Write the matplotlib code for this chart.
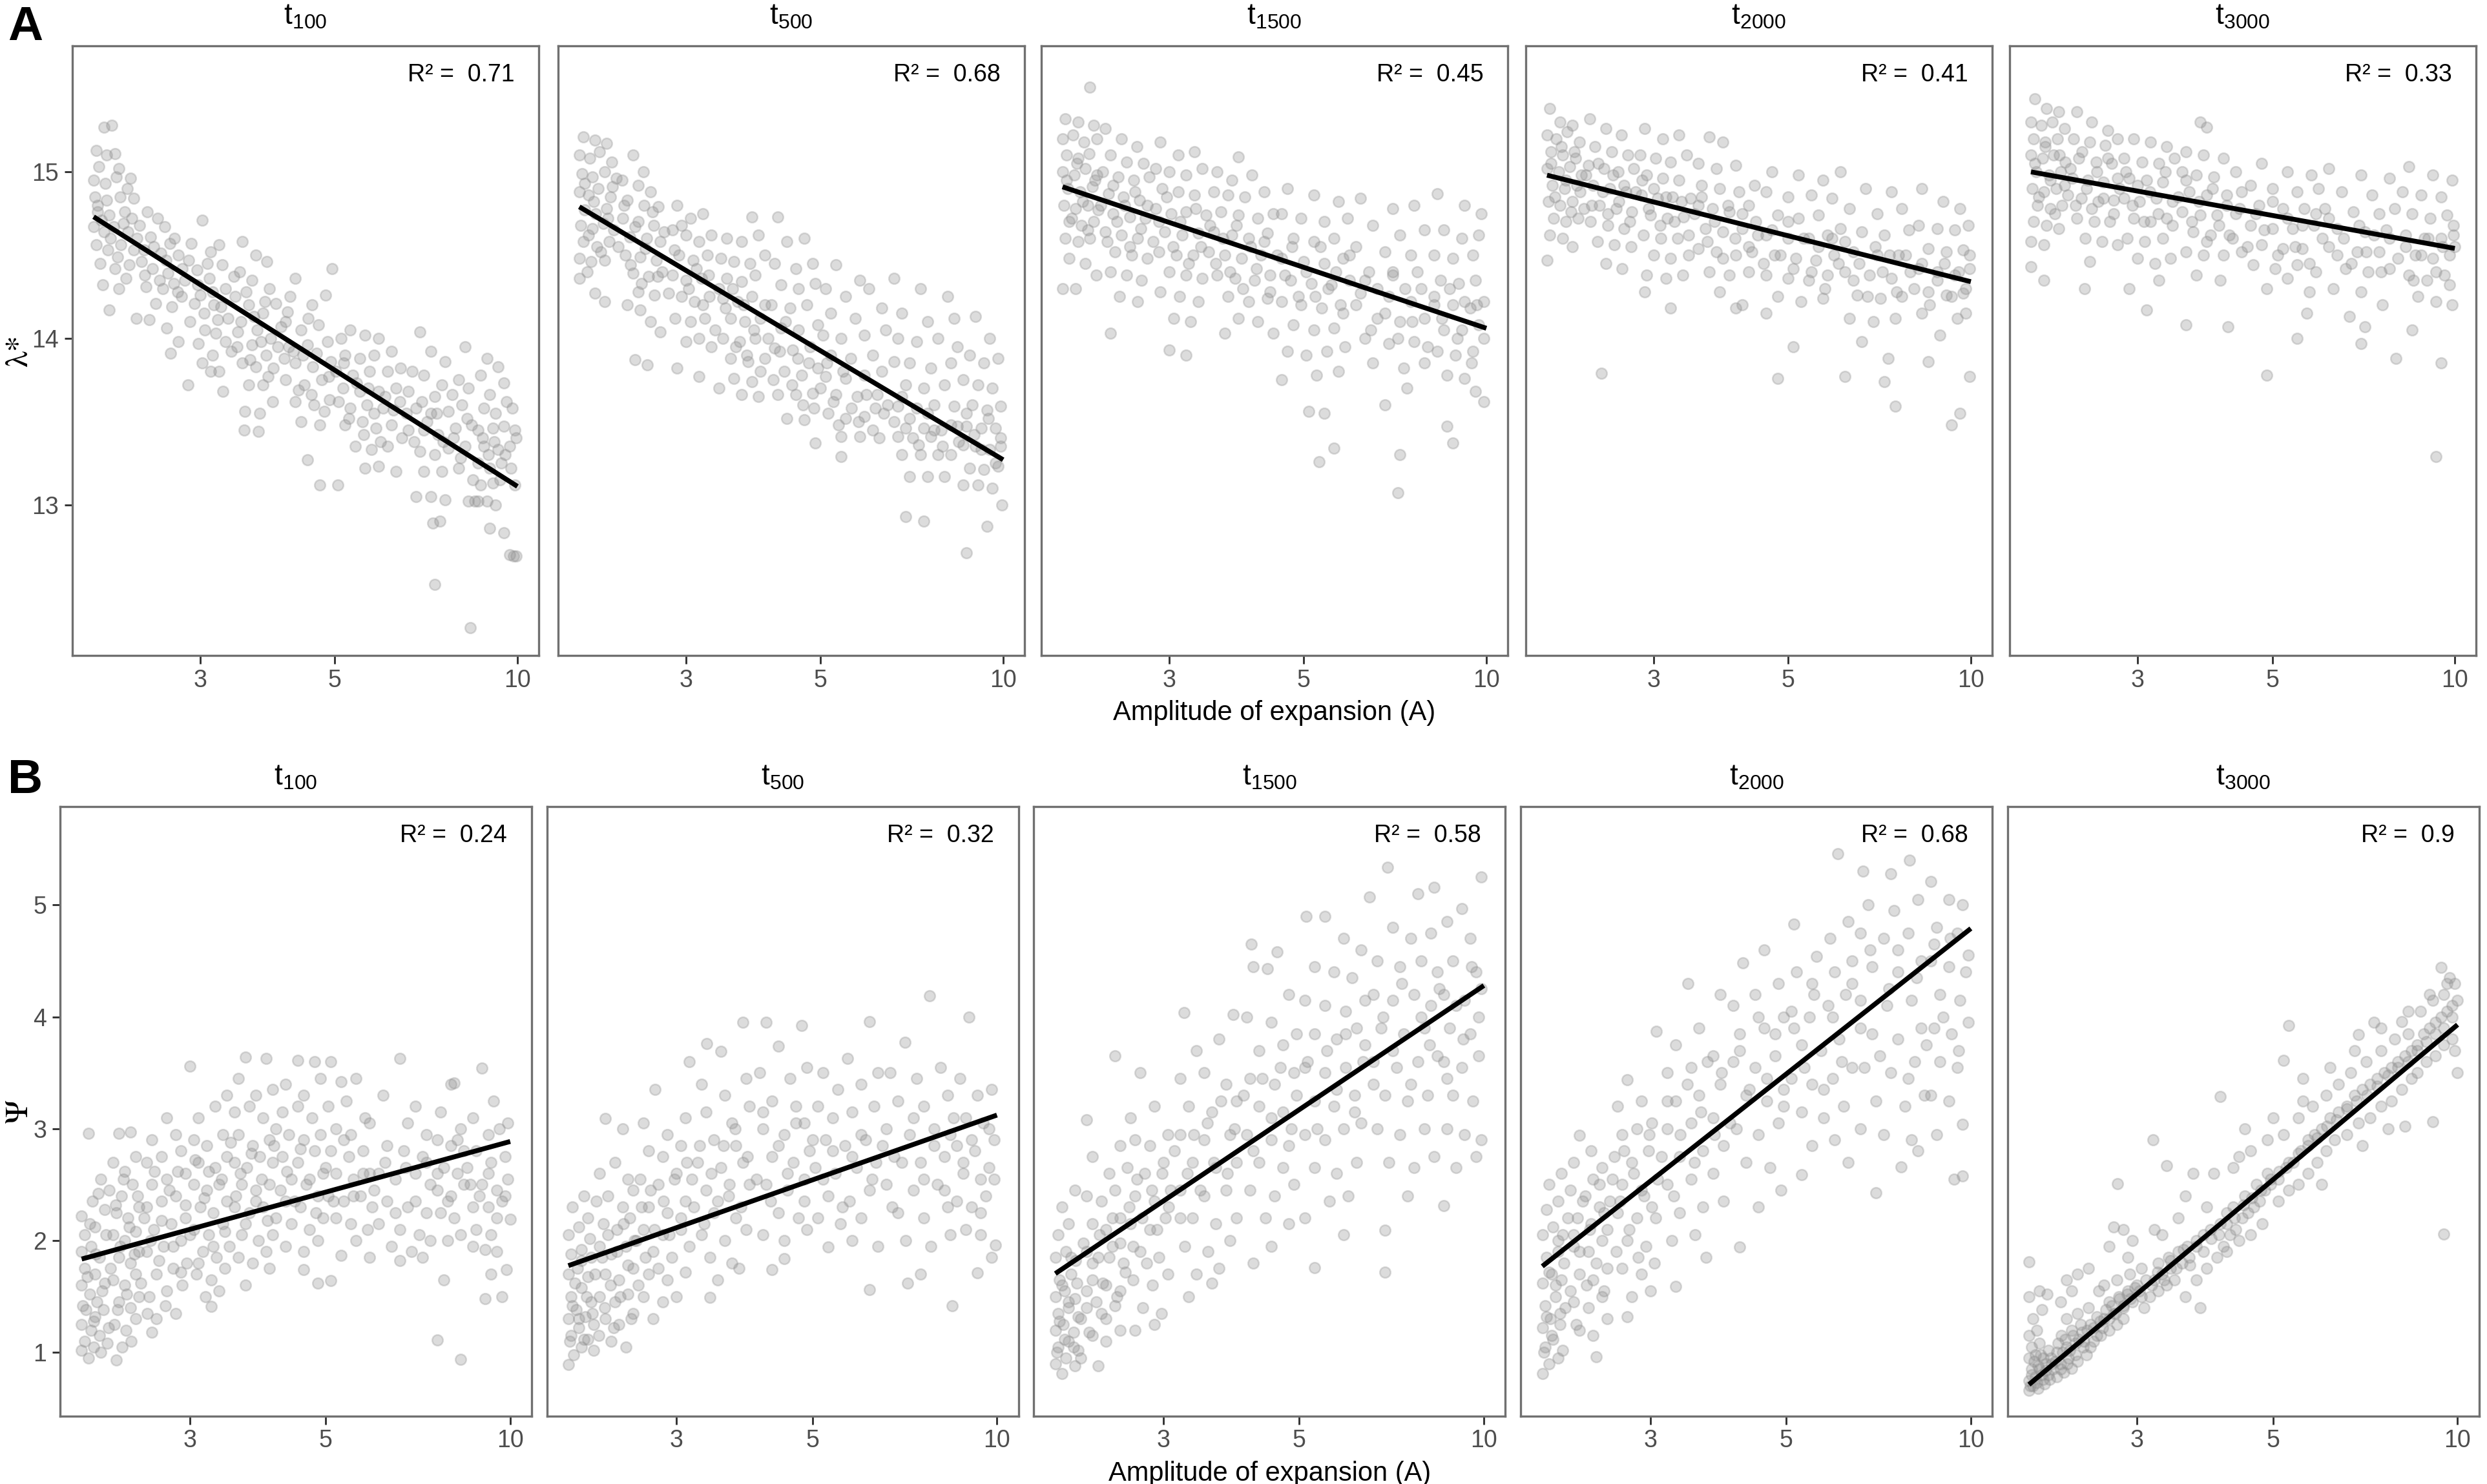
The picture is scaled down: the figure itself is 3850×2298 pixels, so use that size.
import matplotlib
matplotlib.use("Agg")
import matplotlib.pyplot as plt
from matplotlib.ticker import FixedLocator, FixedFormatter, NullLocator

plt.rcParams["font.family"] = ["Liberation Sans", "DejaVu Sans"]
plt.rcParams["mathtext.fontset"] = "custom"
plt.rcParams["mathtext.rm"] = "Liberation Sans"
plt.rcParams["mathtext.it"] = "Liberation Sans"

# ---- data ----
times = ["100", "500", "1500", "2000", "3000"]
r2_lambda = ["0.71", "0.68", "0.45", "0.41", "0.33"]
r2_psi = ["0.24", "0.32", "0.58", "0.68", "0.9"]
x_ticks = [3, 5, 10]
fit_x = [2, 10]
# fitted values at A = 2 and A = 10
fit_lambda = [(14.73, 13.11), (14.79, 13.27), (14.91, 14.06), (14.98, 14.34), (15.0, 14.54)]
fit_psi = [(1.835, 2.886), (1.776, 3.122), (1.705, 4.28), (1.77, 4.79), (0.713, 3.93)]

# panel A: lambda* against amplitude A (outer spread)
lam_t100 = [
    (2.08, 15.27), (2.14, 15.28), (2.02, 15.13), (2.1, 15.1), (2.17, 15.11), (2.04, 15.03), (2.2, 15.02),
    (2.0, 14.95), (2.09, 14.93), (2.18, 14.97), (2.3, 14.96), (2.01, 14.85), (2.1, 14.83), (2.21, 14.85), (2.33, 14.84),
    (2.03, 14.76), (2.12, 14.74), (2.25, 14.76), (2.0, 14.67), (2.08, 14.64), (2.16, 14.67), (2.28, 14.64),
    (2.02, 14.56), (2.11, 14.53), (2.22, 14.56), (2.33, 14.53), (2.05, 14.45), (2.17, 14.42), (2.29, 14.44),
    (2.07, 14.32), (2.2, 14.3), (2.12, 14.17), (2.26, 14.36),
    (2.45, 14.76), (2.55, 14.72), (2.38, 14.68), (2.62, 14.67), (2.48, 14.61), (2.72, 14.6), (2.42, 14.53), (2.58, 14.51),
    (2.76, 14.5), (2.5, 14.42), (2.65, 14.39), (2.8, 14.42), (2.44, 14.31), (2.6, 14.3), (2.75, 14.28), (2.53, 14.21),
    (2.69, 14.19), (2.35, 14.12), (2.47, 14.11), (2.64, 14.06), (2.76, 13.98), (2.68, 13.91),
    (2.9, 14.57), (3.02, 14.71), (3.12, 14.52), (3.22, 14.56), (2.96, 14.41), (3.1, 14.36), (3.26, 14.44),
    (3.0, 14.26), (3.16, 14.2), (3.3, 14.3), (2.88, 14.1), (3.05, 14.05), (3.2, 14.11), (2.98, 13.97), (3.14, 13.9),
    (3.3, 13.98), (3.02, 13.85), (2.86, 13.72), (3.12, 13.8), (3.22, 13.8), (3.27, 13.68),
    (3.52, 14.58), (3.7, 14.5), (3.86, 14.46), (3.48, 14.4), (3.65, 14.35), (3.9, 14.3), (3.42, 14.25), (3.6, 14.2),
    (3.8, 14.15), (4.0, 14.21), (3.5, 14.1), (3.72, 14.05), (3.92, 14.0), (3.45, 13.95), (3.65, 13.96), (3.85, 13.9),
    (4.02, 13.95), (3.52, 13.85), (3.7, 13.83), (3.96, 13.82), (3.6, 13.72), (3.8, 13.72), (3.55, 13.56), (3.76, 13.55),
    (3.95, 13.62), (3.54, 13.45), (3.74, 13.44),
    (4.3, 14.36), (4.95, 14.42), (4.22, 14.25), (4.58, 14.2), (4.82, 14.26), (4.15, 14.1), (4.4, 14.05), (4.7, 14.08),
    (4.2, 13.95), (4.5, 13.96), (4.86, 13.98), (4.3, 13.85), (4.6, 13.83), (4.92, 13.86), (4.14, 13.75), (4.45, 13.72),
    (4.76, 13.75), (4.3, 13.62), (4.62, 13.6), (4.9, 13.63), (4.4, 13.5), (4.72, 13.48), (4.5, 13.27), (4.72, 13.12),
    (5.05, 13.12),
    (5.12, 14.0), (5.3, 14.05), (5.6, 14.02), (5.9, 14.0), (5.2, 13.9), (5.5, 13.88), (5.8, 13.9), (6.2, 13.92),
    (5.02, 13.8), (5.35, 13.78), (5.7, 13.8), (6.1, 13.8), (6.42, 13.82), (5.15, 13.7), (5.5, 13.68), (5.9, 13.68),
    (6.3, 13.7), (5.3, 13.58), (5.65, 13.6), (6.0, 13.58), (6.4, 13.62), (5.2, 13.48), (5.55, 13.5), (5.85, 13.46),
    (6.2, 13.48), (5.4, 13.35), (5.75, 13.33), (6.1, 13.35), (5.6, 13.22), (5.9, 13.23), (6.3, 13.2),
    (6.9, 14.04), (7.2, 13.92), (7.6, 13.86), (8.2, 13.95), (6.7, 13.8), (7.0, 13.78), (7.5, 13.72), (8.0, 13.75),
    (6.6, 13.68), (7.3, 13.65), (7.8, 13.66), (8.3, 13.7), (6.8, 13.58), (7.2, 13.55), (7.7, 13.56), (8.1, 13.6),
    (6.6, 13.45), (7.0, 13.45), (7.4, 13.42), (7.9, 13.46), (8.4, 13.48), (6.9, 13.32), (7.3, 13.3), (7.7, 13.34),
    (8.2, 13.35), (7.0, 13.2), (7.5, 13.2), (8.0, 13.22), (6.8, 13.05), (7.2, 13.05), (7.6, 13.03), (8.3, 13.02),
    (8.5, 13.02), (7.25, 12.89), (7.45, 12.9), (7.3, 12.52), (8.35, 12.26),
    (8.9, 13.88), (9.3, 13.83), (8.7, 13.78), (9.5, 13.73), (9.0, 13.66), (9.6, 13.62), (8.8, 13.58), (9.2, 13.55),
    (9.8, 13.58), (8.6, 13.45), (9.1, 13.46), (9.5, 13.47), (9.9, 13.45), (8.8, 13.35), (9.3, 13.33), (9.7, 13.35),
    (8.6, 13.25), (9.0, 13.22), (9.4, 13.25), (9.9, 13.12), (8.7, 13.12), (9.1, 13.13), (8.6, 13.02), (8.9, 13.02),
    (9.2, 13.0), (9.0, 12.86), (9.5, 12.83), (9.7, 12.7), (9.85, 12.69), (9.95, 12.69),
]

lam_t500 = [
    (2.03, 15.21), (2.12, 15.19), (2.22, 15.17), (2.0, 15.1), (2.08, 15.08), (2.16, 15.12), (2.26, 15.06),
    (2.02, 14.99), (2.1, 14.97), (2.2, 15.0), (2.3, 14.96), (2.0, 14.88), (2.07, 14.86), (2.15, 14.9), (2.25, 14.85),
    (2.04, 14.77), (2.13, 14.75), (2.22, 14.78), (2.01, 14.68), (2.1, 14.66), (2.19, 14.69), (2.28, 14.65),
    (2.03, 14.58), (2.14, 14.55), (2.24, 14.58), (2.0, 14.48), (2.09, 14.46), (2.2, 14.47), (2.0, 14.36), (2.12, 14.27),
    (2.2, 14.22), (2.06, 14.4),
    (2.45, 15.1), (2.55, 15.0), (2.35, 14.95), (2.5, 14.92), (2.62, 14.88), (2.4, 14.83), (2.56, 14.8), (2.7, 14.79),
    (2.36, 14.72), (2.5, 14.7), (2.65, 14.68), (2.42, 14.61), (2.58, 14.6), (2.72, 14.58), (2.38, 14.5), (2.52, 14.49),
    (2.68, 14.47), (2.45, 14.39), (2.6, 14.37), (2.74, 14.4), (2.5, 14.28), (2.66, 14.26), (2.4, 14.2), (2.52, 14.17),
    (2.62, 14.1), (2.72, 14.04), (2.47, 13.87), (2.59, 13.84),
    (2.9, 14.8), (3.05, 14.72), (3.2, 14.75), (2.85, 14.65), (3.0, 14.62), (3.15, 14.58), (3.3, 14.62), (2.92, 14.5),
    (3.08, 14.47), (3.25, 14.5), (2.85, 14.38), (3.0, 14.35), (3.18, 14.36), (2.95, 14.25), (3.1, 14.22), (3.28, 14.25),
    (2.88, 14.12), (3.05, 14.1), (3.22, 14.12), (3.0, 13.98), (3.15, 14.0), (3.3, 13.95), (2.9, 13.82), (3.15, 13.77),
    (3.85, 14.73), (4.25, 14.73), (3.5, 14.6), (3.7, 14.58), (3.95, 14.62), (3.42, 14.48), (3.6, 14.46), (3.82, 14.45),
    (4.05, 14.5), (3.5, 14.36), (3.7, 14.34), (3.9, 14.38), (3.45, 14.24), (3.65, 14.22), (3.85, 14.25), (4.05, 14.2),
    (3.55, 14.12), (3.75, 14.1), (3.98, 14.12), (3.45, 14.0), (3.68, 13.98), (3.9, 14.0), (3.55, 13.88), (3.8, 13.86),
    (4.05, 13.88), (3.6, 13.76), (3.85, 13.74), (3.4, 13.7), (3.7, 13.66), (3.95, 13.65),
    (4.4, 14.58), (4.7, 14.6), (4.2, 14.45), (4.55, 14.42), (4.85, 14.45), (4.3, 14.32), (4.6, 14.3), (4.9, 14.33),
    (4.15, 14.2), (4.45, 14.18), (4.75, 14.2), (4.3, 14.06), (4.6, 14.05), (4.95, 14.08), (4.2, 13.94), (4.5, 13.93),
    (4.8, 13.95), (4.35, 13.8), (4.65, 13.78), (4.95, 13.82), (4.25, 13.66), (4.55, 13.66), (4.85, 13.67), (4.4, 13.52),
    (4.7, 13.51), (4.9, 13.37),
    (5.3, 14.44), (5.8, 14.35), (5.1, 14.3), (5.5, 14.25), (6.0, 14.3), (5.2, 14.15), (5.7, 14.12), (6.3, 14.18),
    (5.05, 14.02), (5.4, 14.0), (5.9, 14.02), (6.4, 14.05), (5.2, 13.9), (5.6, 13.88), (6.1, 13.9), (5.1, 13.77),
    (5.5, 13.76), (5.9, 13.78), (6.3, 13.8), (5.3, 13.66), (5.75, 13.65), (6.2, 13.66), (5.15, 13.55), (5.5, 13.52),
    (5.9, 13.53), (6.35, 13.55), (5.4, 13.41), (5.8, 13.41), (6.1, 13.45), (5.4, 13.29),
    (6.6, 14.36), (7.3, 14.3), (8.1, 14.25), (6.8, 14.15), (7.5, 14.1), (8.3, 14.12), (6.7, 14.0), (7.2, 13.98),
    (7.8, 14.0), (8.4, 13.95), (6.6, 13.86), (7.0, 13.85), (7.6, 13.82), (8.2, 13.85), (6.9, 13.72), (7.4, 13.7),
    (8.0, 13.72), (6.7, 13.59), (7.2, 13.58), (7.7, 13.6), (8.3, 13.59), (6.9, 13.46), (7.4, 13.46), (7.9, 13.45),
    (8.4, 13.47), (6.7, 13.41), (7.1, 13.4), (7.6, 13.41), (6.8, 13.3), (7.3, 13.3), (7.8, 13.3), (8.2, 13.3),
    (7.0, 13.17), (7.5, 13.17), (8.0, 13.17), (6.9, 12.93), (7.4, 12.9),
    (9.0, 14.13), (9.5, 14.0), (8.8, 13.9), (9.3, 13.85), (9.8, 13.88), (8.6, 13.75), (9.1, 13.72), (9.6, 13.7),
    (8.9, 13.6), (9.4, 13.57), (9.9, 13.59), (8.7, 13.47), (9.2, 13.46), (9.7, 13.46), (8.6, 13.36), (9.0, 13.35),
    (9.5, 13.33), (9.9, 13.35), (8.8, 13.22), (9.3, 13.21), (9.8, 13.23), (8.6, 13.12), (9.1, 13.12), (9.6, 13.1),
    (9.95, 13.0), (8.7, 12.71), (9.4, 12.87),
]

lam_t1500 = [
    (2.22, 15.51), (2.02, 15.32), (2.12, 15.3), (2.25, 15.28), (2.0, 15.2), (2.08, 15.22), (2.17, 15.18), (2.28, 15.2),
    (2.03, 15.1), (2.12, 15.08), (2.21, 15.11), (2.0, 15.0), (2.09, 14.98), (2.18, 15.02), (2.28, 14.98),
    (2.04, 14.9), (2.14, 14.88), (2.24, 14.91), (2.01, 14.8), (2.1, 14.78), (2.2, 14.8), (2.29, 14.77),
    (2.05, 14.7), (2.15, 14.68), (2.25, 14.7), (2.02, 14.6), (2.12, 14.58), (2.22, 14.6), (2.05, 14.48), (2.18, 14.45),
    (2.0, 14.3), (2.1, 14.3), (2.27, 14.38),
    (2.35, 15.26), (2.5, 15.2), (2.65, 15.15), (2.4, 15.1), (2.55, 15.06), (2.72, 15.05), (2.33, 15.0), (2.47, 14.97),
    (2.62, 14.95), (2.78, 14.97), (2.38, 14.87), (2.52, 14.85), (2.68, 14.83), (2.42, 14.75), (2.58, 14.73), (2.74, 14.72),
    (2.35, 14.64), (2.5, 14.62), (2.66, 14.6), (2.44, 14.52), (2.6, 14.5), (2.76, 14.48), (2.4, 14.4), (2.55, 14.38),
    (2.7, 14.35), (2.48, 14.25), (2.66, 14.22), (2.4, 14.03),
    (2.9, 15.18), (3.1, 15.1), (3.3, 15.12), (2.85, 15.02), (3.0, 15.0), (3.2, 14.98), (3.4, 15.02), (2.92, 14.9),
    (3.1, 14.88), (3.3, 14.86), (2.85, 14.78), (3.02, 14.75), (3.2, 14.76), (3.45, 14.74), (2.95, 14.64), (3.15, 14.62),
    (3.35, 14.63), (2.88, 14.52), (3.08, 14.5), (3.28, 14.5), (3.48, 14.52), (3.0, 14.4), (3.2, 14.38), (3.4, 14.36),
    (2.9, 14.28), (3.12, 14.25), (3.35, 14.22), (3.05, 14.12), (3.25, 14.1), (3.0, 13.93), (3.2, 13.9),
    (3.9, 15.09), (3.6, 15.0), (3.8, 14.95), (4.1, 14.98), (3.55, 14.88), (3.75, 14.86), (4.0, 14.85), (4.3, 14.88),
    (3.65, 14.76), (3.9, 14.74), (4.2, 14.72), (4.45, 14.75), (3.55, 14.64), (3.8, 14.62), (4.05, 14.6), (4.35, 14.63),
    (3.7, 14.5), (3.95, 14.48), (4.25, 14.5), (3.6, 14.38), (3.85, 14.36), (4.15, 14.35), (4.4, 14.38), (3.75, 14.25),
    (4.05, 14.22), (4.35, 14.24), (3.9, 14.12), (4.2, 14.1), (3.7, 14.03), (4.45, 14.03),
    (4.7, 14.9), (5.2, 14.86), (5.7, 14.82), (4.6, 14.75), (4.95, 14.72), (5.4, 14.7), (5.9, 14.72), (4.8, 14.6),
    (5.2, 14.58), (5.6, 14.6), (4.6, 14.48), (5.0, 14.46), (5.4, 14.45), (5.8, 14.48), (4.75, 14.35), (5.15, 14.33),
    (5.55, 14.32), (5.95, 14.35), (4.6, 14.22), (4.95, 14.2), (5.35, 14.18), (5.75, 14.2), (4.8, 14.08), (5.2, 14.05),
    (5.6, 14.06), (4.7, 13.92), (5.05, 13.9), (5.45, 13.92), (5.85, 13.95), (4.6, 13.75), (5.25, 13.78), (5.7, 13.8),
    (5.1, 13.56), (5.4, 13.55), (5.3, 13.26), (5.6, 13.34),
    (6.2, 14.84), (7.0, 14.78), (7.6, 14.8), (6.5, 14.68), (7.2, 14.62), (7.9, 14.65), (6.1, 14.55), (6.8, 14.52),
    (7.5, 14.5), (6.4, 14.4), (7.0, 14.38), (7.7, 14.4), (6.2, 14.27), (6.9, 14.25), (7.5, 14.22), (6.6, 14.12),
    (7.2, 14.1), (7.9, 14.12), (6.3, 14.0), (6.9, 13.97), (7.6, 13.98), (6.5, 13.85), (7.3, 13.82), (7.9, 13.85),
    (6.8, 13.6), (7.4, 13.7), (7.2, 13.3), (7.15, 13.07),
    (8.3, 14.87), (9.2, 14.8), (9.8, 14.75), (8.5, 14.65), (9.1, 14.6), (9.7, 14.62), (8.2, 14.5), (8.8, 14.48),
    (9.5, 14.5), (8.4, 14.35), (9.0, 14.33), (9.6, 14.35), (8.2, 14.2), (8.8, 14.2), (9.4, 14.18), (9.9, 14.22),
    (8.5, 14.05), (9.1, 14.05), (9.7, 14.08), (8.3, 13.92), (8.9, 13.9), (9.5, 13.92), (8.6, 13.78), (9.2, 13.76),
    (9.9, 13.62), (8.6, 13.47), (8.8, 13.37), (9.6, 13.68),
]

lam_t2000 = [
    (2.02, 15.38), (2.1, 15.3), (2.2, 15.28), (2.0, 15.22), (2.07, 15.2), (2.16, 15.24), (2.26, 15.18),
    (2.03, 15.12), (2.12, 15.1), (2.22, 15.12), (2.0, 15.02), (2.09, 15.0), (2.18, 15.03), (2.28, 14.98),
    (2.04, 14.92), (2.14, 14.9), (2.24, 14.92), (2.01, 14.82), (2.1, 14.8), (2.2, 14.82), (2.3, 14.78),
    (2.05, 14.72), (2.15, 14.7), (2.25, 14.72), (2.02, 14.62), (2.12, 14.6), (2.0, 14.47), (2.2, 14.55),
    (2.35, 15.32), (2.5, 15.26), (2.65, 15.22), (2.4, 15.15), (2.56, 15.12), (2.72, 15.1), (2.34, 15.04), (2.48, 15.02),
    (2.62, 15.0), (2.78, 15.02), (2.38, 14.92), (2.54, 14.9), (2.7, 14.88), (2.44, 14.8), (2.6, 14.78), (2.76, 14.76),
    (2.36, 14.7), (2.52, 14.68), (2.68, 14.66), (2.42, 14.58), (2.58, 14.56), (2.75, 14.55), (2.5, 14.45), (2.66, 14.42),
    (2.46, 13.79),
    (2.9, 15.26), (3.1, 15.2), (3.3, 15.22), (2.85, 15.1), (3.02, 15.08), (3.2, 15.06), (3.4, 15.1), (2.92, 14.98),
    (3.1, 14.96), (3.3, 14.95), (2.86, 14.86), (3.04, 14.84), (3.22, 14.85), (3.45, 14.84), (2.96, 14.74), (3.16, 14.72),
    (3.36, 14.73), (2.88, 14.62), (3.08, 14.6), (3.28, 14.6), (3.0, 14.5), (3.2, 14.48), (3.42, 14.5), (2.92, 14.38),
    (3.14, 14.36), (3.35, 14.38), (2.9, 14.28), (3.2, 14.18),
    (3.7, 15.21), (3.9, 15.18), (3.55, 15.05), (3.8, 15.02), (4.1, 15.04), (3.6, 14.92), (3.85, 14.9), (4.15, 14.88),
    (4.4, 14.92), (3.55, 14.8), (3.75, 14.78), (4.0, 14.76), (4.3, 14.8), (3.65, 14.66), (3.9, 14.64), (4.2, 14.66),
    (4.45, 14.62), (3.55, 14.54), (3.8, 14.52), (4.1, 14.5), (4.35, 14.52), (3.7, 14.4), (4.0, 14.38), (4.3, 14.4),
    (3.85, 14.28), (4.2, 14.2), (4.1, 14.18),
    (4.7, 15.0), (5.2, 14.98), (5.7, 14.95), (4.6, 14.88), (5.0, 14.85), (5.45, 14.86), (5.9, 14.84), (4.8, 14.74),
    (5.2, 14.72), (5.6, 14.74), (4.6, 14.62), (5.0, 14.6), (5.4, 14.6), (5.8, 14.62), (4.75, 14.5), (5.15, 14.48),
    (5.55, 14.47), (5.95, 14.5), (4.6, 14.38), (5.0, 14.36), (5.4, 14.35), (5.8, 14.38), (4.8, 14.25), (5.25, 14.22),
    (5.7, 14.24), (4.6, 14.15), (5.1, 13.95), (4.8, 13.76),
    (6.1, 15.0), (6.7, 14.9), (7.4, 14.88), (6.3, 14.78), (7.0, 14.75), (7.7, 14.78), (6.1, 14.66), (6.6, 14.64),
    (7.2, 14.62), (7.9, 14.65), (6.4, 14.52), (7.0, 14.5), (7.6, 14.5), (6.2, 14.4), (6.8, 14.38), (7.4, 14.36),
    (7.95, 14.4), (6.5, 14.26), (7.1, 14.24), (7.7, 14.25), (6.3, 14.12), (6.9, 14.1), (7.5, 14.12), (6.6, 13.98),
    (7.3, 13.88), (6.2, 13.77), (7.2, 13.74), (7.5, 13.59),
    (8.3, 14.9), (9.0, 14.82), (9.6, 14.78), (8.2, 14.68), (8.8, 14.66), (9.4, 14.65), (9.9, 14.68), (8.5, 14.54),
    (9.1, 14.52), (9.7, 14.53), (8.2, 14.42), (8.8, 14.4), (9.4, 14.38), (9.95, 14.42), (8.5, 14.28), (9.1, 14.26),
    (9.7, 14.27), (8.3, 14.15), (8.9, 14.02), (9.5, 14.12), (8.5, 13.86), (9.95, 13.77), (9.6, 13.55), (9.3, 13.48),
    (9.8, 14.3),
]

lam_t3000 = [
    (2.03, 15.44), (2.12, 15.38), (2.22, 15.36), (2.0, 15.3), (2.08, 15.28), (2.17, 15.3), (2.27, 15.26),
    (2.02, 15.2), (2.11, 15.18), (2.21, 15.2), (2.0, 15.1), (2.09, 15.08), (2.18, 15.1), (2.28, 15.06),
    (2.04, 15.0), (2.14, 14.98), (2.24, 15.0), (2.01, 14.9), (2.1, 14.88), (2.2, 14.9), (2.3, 14.86),
    (2.05, 14.8), (2.15, 14.78), (2.25, 14.8), (2.02, 14.7), (2.12, 14.68), (2.22, 14.66), (2.0, 14.58), (2.1, 14.56),
    (2.0, 14.43), (2.1, 14.35),
    (2.38, 15.36), (2.52, 15.3), (2.68, 15.25), (2.35, 15.2), (2.5, 15.18), (2.65, 15.16), (2.78, 15.2), (2.4, 15.08),
    (2.56, 15.06), (2.72, 15.05), (2.34, 14.96), (2.48, 14.95), (2.63, 14.94), (2.78, 14.96), (2.42, 14.84), (2.58, 14.82),
    (2.74, 14.83), (2.38, 14.72), (2.54, 14.7), (2.7, 14.7), (2.46, 14.6), (2.62, 14.58), (2.78, 14.56), (2.5, 14.46),
    (2.45, 14.3),
    (2.95, 15.2), (3.15, 15.18), (3.35, 15.15), (2.85, 15.08), (3.05, 15.06), (3.25, 15.05), (3.45, 15.08), (2.9, 14.96),
    (3.1, 14.95), (3.3, 14.94), (2.85, 14.84), (3.02, 14.82), (3.22, 14.84), (3.42, 14.82), (2.95, 14.72), (3.15, 14.7),
    (3.35, 14.72), (2.88, 14.6), (3.08, 14.58), (3.3, 14.6), (3.0, 14.48), (3.2, 14.45), (3.4, 14.48), (2.9, 14.3),
    (3.1, 14.17), (3.25, 14.35),
    (3.8, 15.3), (3.9, 15.27), (3.6, 15.12), (3.85, 15.1), (4.15, 15.08), (3.55, 15.0), (3.75, 14.98), (4.0, 14.97),
    (4.35, 15.0), (3.65, 14.88), (3.9, 14.86), (4.2, 14.86), (4.45, 14.88), (3.55, 14.76), (3.8, 14.74), (4.05, 14.74),
    (4.35, 14.75), (3.7, 14.64), (3.95, 14.62), (4.25, 14.62), (3.6, 14.52), (3.85, 14.5), (4.15, 14.5), (4.45, 14.52),
    (3.75, 14.38), (4.1, 14.35), (3.6, 14.08), (4.23, 14.07),
    (4.8, 15.05), (5.3, 15.0), (5.8, 14.98), (4.6, 14.92), (5.0, 14.9), (5.5, 14.88), (5.95, 14.9), (4.75, 14.8),
    (5.2, 14.78), (5.65, 14.78), (4.6, 14.68), (5.0, 14.66), (5.4, 14.66), (5.85, 14.68), (4.8, 14.56), (5.2, 14.54),
    (5.6, 14.54), (4.65, 14.44), (5.05, 14.42), (5.5, 14.44), (5.9, 14.4), (4.9, 14.3), (5.3, 14.36), (5.75, 14.28),
    (5.5, 14.0), (4.9, 13.78), (5.7, 14.15),
    (6.2, 15.02), (7.0, 14.98), (7.8, 14.96), (6.5, 14.88), (7.3, 14.86), (6.1, 14.78), (6.8, 14.76), (7.5, 14.75),
    (7.95, 14.78), (6.4, 14.66), (7.1, 14.64), (7.7, 14.65), (6.2, 14.55), (6.9, 14.52), (7.5, 14.52), (6.6, 14.42),
    (7.2, 14.4), (7.8, 14.42), (6.3, 14.3), (7.0, 14.28), (7.6, 14.2), (6.7, 14.13), (7.0, 13.97), (7.1, 14.07),
    (8.0, 13.88),
    (8.4, 15.03), (9.2, 14.98), (9.9, 14.95), (8.2, 14.88), (8.8, 14.86), (9.5, 14.85), (8.5, 14.75), (9.1, 14.72),
    (9.7, 14.74), (8.3, 14.62), (8.9, 14.6), (9.5, 14.6), (9.95, 14.62), (8.6, 14.5), (9.2, 14.48), (9.8, 14.5),
    (8.4, 14.38), (9.0, 14.35), (9.6, 14.38), (8.7, 14.25), (9.3, 14.22), (9.9, 14.2), (10.0, 14.55), (9.5, 13.85),
    (9.3, 13.29), (8.5, 14.05),
]

# denser core of each lambda* cloud
lam_t100_core = [
    (2.03, 14.8), (2.06, 14.71), (2.13, 14.6), (2.19, 14.49), (2.24, 14.69), (2.27, 14.9), (2.31, 14.72), (2.36, 14.6),
    (2.4, 14.46), (2.43, 14.38), (2.51, 14.55), (2.57, 14.35), (2.63, 14.47), (2.67, 14.57), (2.71, 14.33), (2.79, 14.25),
    (2.83, 14.35), (2.87, 14.47), (2.93, 14.21), (2.97, 14.32), (3.04, 14.15), (3.08, 14.45), (3.14, 14.28), (3.18, 14.03),
    (3.24, 14.19), (3.33, 14.12), (3.37, 13.92), (3.41, 14.37), (3.46, 14.04), (3.57, 14.28), (3.62, 13.87), (3.68, 14.13),
    (3.78, 13.98), (3.83, 14.22), (3.88, 13.77), (4.07, 14.07), (4.12, 13.88), (4.18, 14.16), (4.27, 13.92), (4.35, 13.69),
    (4.43, 13.9), (4.52, 14.12), (4.57, 13.66), (4.66, 13.91), (4.8, 13.56), (4.88, 13.77), (5.07, 13.62), (5.17, 13.85),
    (5.27, 13.52), (5.43, 13.73), (5.58, 13.42), (5.68, 13.7), (5.8, 13.55), (5.95, 13.38), (6.05, 13.65), (6.25, 13.57),
    (6.45, 13.4), (6.55, 13.55), (6.75, 13.38), (6.95, 13.62), (7.1, 13.5), (7.35, 13.55), (7.55, 13.38), (7.85, 13.4),
    (8.05, 13.28), (8.25, 13.52), (8.45, 13.15), (8.75, 13.4), (8.95, 13.3), (9.15, 13.38), (9.35, 13.15), (9.55, 13.3),
    (9.75, 13.22), (9.95, 13.4),
]
lam_t500_core = [
    (2.04, 14.93), (2.07, 14.62), (2.11, 14.82), (2.17, 14.52), (2.23, 14.72), (2.27, 14.91), (2.32, 14.55), (2.37, 14.8),
    (2.43, 14.44), (2.47, 14.67), (2.53, 14.33), (2.57, 14.54), (2.64, 14.76), (2.69, 14.37), (2.76, 14.64), (2.81, 14.27),
    (2.87, 14.53), (2.95, 14.68), (3.03, 14.3), (3.12, 14.42), (3.2, 14.2), (3.27, 14.38), (3.35, 14.05), (3.4, 14.3),
    (3.48, 14.18), (3.58, 14.3), (3.62, 13.95), (3.73, 14.2), (3.78, 13.9), (3.88, 14.05), (3.98, 13.8), (4.1, 14.0),
    (4.18, 13.75), (4.28, 13.92), (4.38, 14.1), (4.48, 13.72), (4.58, 13.88), (4.68, 13.6), (4.78, 13.85), (4.88, 13.58),
    (5.0, 13.7), (5.12, 13.85), (5.25, 13.62), (5.35, 13.48), (5.45, 13.8), (5.62, 13.58), (5.78, 13.5), (5.95, 13.66),
    (6.15, 13.58), (6.25, 13.4), (6.45, 13.6), (6.6, 13.5), (6.8, 13.65), (7.0, 13.52), (7.25, 13.36), (7.5, 13.55),
    (7.7, 13.45), (7.95, 13.35), (8.2, 13.48), (8.45, 13.38), (8.7, 13.55), (8.95, 13.42), (9.2, 13.33), (9.45, 13.52),
    (9.7, 13.25), (9.9, 13.4),
]
lam_t1500_core = [
    (2.03, 14.95), (2.07, 14.72), (2.11, 15.05), (2.16, 14.82), (2.2, 14.65), (2.26, 14.95), (2.31, 14.8), (2.37, 14.58),
    (2.42, 14.92), (2.46, 14.7), (2.53, 14.8), (2.58, 14.55), (2.63, 14.88), (2.69, 14.66), (2.76, 14.8), (2.82, 14.58),
    (2.88, 14.7), (2.97, 14.85), (3.04, 14.55), (3.13, 14.7), (3.23, 14.45), (3.32, 14.78), (3.38, 14.55), (3.5, 14.68),
    (3.58, 14.45), (3.68, 14.6), (3.78, 14.4), (3.87, 14.68), (3.97, 14.3), (4.08, 14.55), (4.18, 14.42), (4.3, 14.58),
    (4.4, 14.28), (4.52, 14.5), (4.65, 14.38), (4.78, 14.55), (4.9, 14.25), (5.05, 14.4), (5.22, 14.25), (5.32, 14.55),
    (5.48, 14.3), (5.65, 14.4), (5.8, 14.15), (5.95, 14.5), (6.1, 14.2), (6.3, 14.35), (6.45, 14.05), (6.6, 14.3),
    (6.8, 14.15), (7.0, 14.4), (7.15, 14.0), (7.35, 14.3), (7.55, 14.1), (7.8, 14.3), (8.0, 13.95), (8.2, 14.25),
    (8.45, 14.12), (8.7, 14.3), (8.95, 14.0), (9.2, 14.22), (9.45, 13.85), (9.65, 14.2), (9.9, 14.0),
]
lam_t2000_core = [
    (2.03, 15.05), (2.06, 14.85), (2.11, 15.15), (2.15, 14.95), (2.19, 14.76), (2.23, 15.08), (2.27, 14.88), (2.32, 14.98),
    (2.37, 14.8), (2.43, 15.05), (2.47, 14.88), (2.52, 14.75), (2.57, 14.98), (2.63, 14.82), (2.68, 14.92), (2.74, 14.7),
    (2.8, 14.88), (2.87, 14.95), (2.94, 14.78), (3.0, 14.9), (3.07, 14.68), (3.14, 14.85), (3.24, 14.7), (3.33, 14.82),
    (3.42, 14.62), (3.5, 14.75), (3.6, 14.85), (3.68, 14.58), (3.78, 14.7), (3.9, 14.48), (3.98, 14.8), (4.08, 14.6),
    (4.2, 14.75), (4.3, 14.55), (4.42, 14.7), (4.55, 14.45), (4.7, 14.65), (4.85, 14.5), (5.0, 14.7), (5.1, 14.42),
    (5.3, 14.6), (5.45, 14.4), (5.6, 14.55), (5.75, 14.3), (5.9, 14.6), (6.05, 14.45), (6.2, 14.58), (6.4, 14.35),
    (6.55, 14.45), (6.75, 14.25), (6.95, 14.55), (7.15, 14.4), (7.35, 14.5), (7.55, 14.28), (7.8, 14.5), (8.05, 14.3),
    (8.3, 14.45), (8.55, 14.2), (8.8, 14.35), (9.05, 14.45), (9.3, 14.25), (9.55, 14.4), (9.8, 14.15), (9.95, 14.5),
]
lam_t3000_core = [
    (2.03, 15.05), (2.06, 14.85), (2.11, 15.15), (2.15, 14.95), (2.19, 14.75), (2.23, 15.1), (2.27, 14.92), (2.32, 15.02),
    (2.37, 14.8), (2.43, 15.12), (2.47, 14.9), (2.52, 14.78), (2.57, 15.0), (2.63, 14.84), (2.68, 15.08), (2.74, 14.75),
    (2.8, 14.9), (2.87, 15.0), (2.94, 14.8), (3.0, 14.92), (3.07, 14.7), (3.14, 14.88), (3.24, 14.75), (3.33, 15.0),
    (3.42, 14.68), (3.5, 14.85), (3.6, 14.95), (3.68, 14.7), (3.78, 14.82), (3.9, 14.58), (3.98, 14.9), (4.08, 14.68),
    (4.2, 14.8), (4.3, 14.6), (4.42, 14.78), (4.55, 14.55), (4.7, 14.75), (4.85, 14.65), (5.0, 14.82), (5.1, 14.5),
    (5.3, 14.72), (5.45, 14.55), (5.6, 14.68), (5.75, 14.45), (5.9, 14.75), (6.05, 14.6), (6.2, 14.72), (6.4, 14.5),
    (6.55, 14.6), (6.75, 14.45), (6.95, 14.68), (7.15, 14.52), (7.35, 14.62), (7.55, 14.4), (7.8, 14.6), (8.05, 14.48),
    (8.3, 14.55), (8.55, 14.35), (8.8, 14.5), (9.05, 14.6), (9.3, 14.4), (9.55, 14.55), (9.8, 14.32), (9.95, 14.68),
]

# panel B: Psi against amplitude A (outer spread)
psi_t100 = [
    (2.05, 2.96), (2.0, 2.22), (2.08, 2.35), (2.15, 2.55), (2.02, 2.05), (2.1, 2.12), (2.18, 2.28), (2.0, 1.9),
    (2.07, 1.95), (2.14, 1.85), (2.02, 1.75), (2.1, 1.7), (2.18, 1.62), (2.0, 1.6), (2.06, 1.52), (2.12, 1.45),
    (2.03, 1.38), (2.1, 1.32), (2.17, 1.38), (2.0, 1.25), (2.07, 1.2), (2.14, 1.15), (2.02, 1.1), (2.09, 1.05),
    (2.0, 1.02), (2.05, 0.95), (2.15, 1.0), (2.2, 1.08),
    (2.3, 2.96), (2.4, 2.97), (2.25, 2.7), (2.35, 2.62), (2.45, 2.75), (2.22, 2.45), (2.32, 2.4), (2.42, 2.5),
    (2.28, 2.25), (2.38, 2.2), (2.48, 2.3), (2.25, 2.05), (2.35, 2.0), (2.45, 2.08), (2.3, 1.85), (2.4, 1.8),
    (2.48, 1.9), (2.25, 1.65), (2.35, 1.6), (2.45, 1.7), (2.3, 1.45), (2.4, 1.4), (2.48, 1.5), (2.26, 1.25),
    (2.36, 1.2), (2.45, 1.3), (2.28, 0.93), (2.33, 1.05),
    (2.75, 3.1), (2.6, 2.9), (2.85, 2.95), (2.55, 2.7), (2.7, 2.75), (2.9, 2.8), (2.6, 2.5), (2.75, 2.55),
    (2.95, 2.6), (2.55, 2.3), (2.7, 2.35), (2.85, 2.4), (2.62, 2.1), (2.8, 2.15), (2.95, 2.2), (2.55, 1.9),
    (2.72, 1.95), (2.9, 2.0), (2.65, 1.7), (2.82, 1.75), (2.97, 1.8), (2.58, 1.5), (2.75, 1.55), (2.92, 1.6),
    (2.65, 1.3), (2.85, 1.35), (2.6, 1.18), (3.0, 3.56),
    (3.1, 3.1), (3.3, 3.2), (3.45, 3.3), (3.05, 2.9), (3.2, 2.85), (3.4, 2.95), (3.1, 2.7), (3.3, 2.65),
    (3.45, 2.75), (3.05, 2.5), (3.2, 2.45), (3.38, 2.55), (3.12, 2.3), (3.28, 2.25), (3.45, 2.35), (3.05, 2.1),
    (3.22, 2.05), (3.4, 2.15), (3.15, 1.9), (3.32, 1.85), (3.48, 1.95), (3.08, 1.7), (3.25, 1.65), (3.42, 1.75),
    (3.18, 1.5), (3.35, 1.55), (3.25, 1.41),
    (3.7, 3.64), (4.0, 3.63), (3.6, 3.45), (3.85, 3.3), (4.1, 3.35), (3.55, 3.15), (3.75, 3.2), (3.95, 3.1),
    (4.15, 3.0), (3.6, 2.95), (3.8, 2.85), (4.05, 2.9), (3.55, 2.7), (3.72, 2.65), (3.9, 2.75), (4.1, 2.7),
    (3.65, 2.5), (3.85, 2.45), (4.05, 2.5), (3.55, 2.3), (3.75, 2.25), (3.95, 2.3), (4.15, 2.2), (3.65, 2.05),
    (3.88, 2.0), (4.1, 2.05), (3.6, 1.85), (3.8, 1.8), (4.0, 1.9), (3.7, 1.6), (4.05, 1.75),
    (4.5, 3.61), (4.8, 3.6), (4.3, 3.4), (4.6, 3.3), (4.9, 3.45), (4.25, 3.15), (4.5, 3.2), (4.75, 3.1),
    (4.35, 2.95), (4.6, 2.9), (4.9, 2.95), (4.25, 2.75), (4.5, 2.7), (4.8, 2.8), (4.4, 2.55), (4.65, 2.5),
    (4.95, 2.6), (4.3, 2.35), (4.55, 2.3), (4.85, 2.4), (4.4, 2.15), (4.7, 2.1), (4.95, 2.2), (4.3, 1.95),
    (4.6, 1.9), (4.85, 2.0), (4.6, 1.74), (4.85, 1.62),
    (5.1, 3.6), (5.3, 3.42), (5.6, 3.45), (5.05, 3.2), (5.4, 3.25), (5.8, 3.1), (5.2, 3.0), (5.5, 2.95),
    (5.9, 3.05), (5.1, 2.8), (5.45, 2.75), (5.75, 2.8), (5.2, 2.6), (5.55, 2.55), (5.9, 2.6), (5.05, 2.4),
    (5.35, 2.35), (5.7, 2.4), (5.95, 2.3), (5.2, 2.2), (5.5, 2.15), (5.85, 2.1), (5.1, 1.64), (5.3, 1.87),
    (5.6, 2.0), (5.9, 1.85),
    (6.6, 3.63), (7.0, 3.2), (6.2, 3.3), (6.8, 3.05), (7.3, 2.95), (6.3, 2.85), (6.7, 2.8), (7.2, 2.75),
    (6.1, 2.6), (6.5, 2.55), (7.0, 2.6), (7.4, 2.5), (6.3, 2.35), (6.8, 2.3), (7.3, 2.25), (6.1, 2.15),
    (6.6, 2.1), (7.1, 2.05), (6.4, 1.95), (6.9, 1.9), (7.4, 2.0), (6.6, 1.82), (7.2, 1.85),
    (8.0, 3.4), (8.1, 3.41), (7.7, 3.15), (8.3, 3.0), (7.6, 2.9), (8.0, 2.85), (8.4, 2.8), (7.8, 2.65),
    (8.2, 2.6), (7.6, 2.45), (8.0, 2.4), (8.4, 2.5), (7.7, 2.25), (8.1, 2.2), (7.9, 2.0), (8.3, 2.05),
    (7.8, 1.65), (7.6, 1.11), (8.3, 0.94),
    (9.0, 3.54), (9.4, 3.25), (9.9, 3.05), (8.7, 3.1), (9.2, 2.95), (9.6, 3.0), (8.8, 2.8), (9.3, 2.7),
    (9.8, 2.75), (8.6, 2.5), (9.0, 2.5), (9.5, 2.45), (9.9, 2.55), (8.7, 2.3), (9.2, 2.3), (9.7, 2.35),
    (8.8, 2.1), (9.3, 2.05), (10.0, 2.19), (8.7, 1.95), (9.1, 1.92), (9.5, 1.9), (9.1, 1.48), (9.7, 1.5),
    (9.85, 1.74), (9.3, 1.7),
]

psi_t500 = [
    (2.0, 0.89), (2.04, 0.98), (2.1, 1.05), (2.02, 1.15), (2.08, 1.22), (2.15, 1.12), (2.0, 1.3), (2.06, 1.38),
    (2.13, 1.32), (2.18, 1.45), (2.02, 1.5), (2.1, 1.58), (2.0, 1.7), (2.07, 1.75), (2.15, 1.68), (2.02, 1.88),
    (2.1, 1.92), (2.18, 1.85), (2.0, 2.05), (2.08, 2.12), (2.15, 2.2), (2.03, 2.3), (2.12, 2.4), (2.2, 1.25),
    (2.2, 1.02),
    (2.3, 3.09), (2.45, 3.0), (2.25, 2.6), (2.38, 2.7), (2.5, 2.55), (2.22, 2.35), (2.32, 2.4), (2.45, 2.3),
    (2.55, 2.45), (2.28, 2.15), (2.4, 2.1), (2.52, 2.2), (2.25, 1.95), (2.35, 1.88), (2.48, 1.95), (2.58, 2.0),
    (2.3, 1.7), (2.42, 1.65), (2.55, 1.75), (2.25, 1.5), (2.38, 1.45), (2.5, 1.52), (2.3, 1.3), (2.42, 1.25),
    (2.55, 1.35), (2.35, 1.1), (2.48, 1.05),
    (2.77, 3.35), (3.15, 3.6), (2.65, 3.05), (2.9, 2.95), (3.1, 3.1), (2.7, 2.8), (2.85, 2.75), (3.05, 2.85),
    (2.62, 2.55), (2.8, 2.5), (3.0, 2.6), (3.18, 2.55), (2.7, 2.3), (2.9, 2.25), (3.1, 2.35), (2.65, 2.1),
    (2.85, 2.05), (3.05, 2.1), (2.75, 1.9), (2.95, 1.85), (3.15, 1.95), (2.7, 1.7), (2.9, 1.65), (3.1, 1.72),
    (2.65, 1.5), (2.85, 1.45), (2.75, 1.3), (3.0, 1.5),
    (3.36, 3.76), (3.85, 3.95), (3.55, 3.69), (3.3, 3.4), (3.6, 3.3), (3.9, 3.45), (3.35, 3.15), (3.7, 3.05),
    (3.95, 3.2), (3.45, 2.9), (3.75, 2.85), (3.25, 2.7), (3.55, 2.65), (3.85, 2.7), (3.35, 2.45), (3.65, 2.4),
    (3.95, 2.5), (3.45, 2.25), (3.75, 2.2), (3.3, 2.05), (3.6, 2.0), (3.9, 2.1), (3.4, 1.85), (3.7, 1.8),
    (3.5, 1.65), (3.8, 1.75), (3.4, 1.49),
    (4.2, 3.95), (4.8, 3.92), (4.4, 3.74), (4.1, 3.5), (4.6, 3.45), (4.9, 3.55), (4.3, 3.25), (4.7, 3.2),
    (4.15, 3.0), (4.5, 2.95), (4.85, 3.05), (4.3, 2.75), (4.65, 2.7), (4.95, 2.8), (4.2, 2.5), (4.55, 2.45),
    (4.85, 2.55), (4.4, 2.25), (4.75, 2.2), (4.15, 2.05), (4.5, 2.0), (4.9, 2.1), (4.5, 1.84), (4.3, 1.74),
    (6.2, 3.96), (5.7, 3.63), (5.2, 3.5), (5.5, 3.35), (6.0, 3.4), (6.4, 3.5), (5.1, 3.2), (5.4, 3.1),
    (5.8, 3.15), (6.3, 3.2), (5.25, 2.9), (5.65, 2.85), (6.1, 2.9), (5.05, 2.65), (5.45, 2.6), (5.9, 2.65),
    (6.35, 2.7), (5.3, 2.4), (5.75, 2.35), (6.2, 2.45), (5.1, 2.2), (5.55, 2.15), (6.0, 2.2), (5.3, 1.94),
    (5.8, 2.0), (6.2, 1.56), (6.4, 1.95),
    (7.77, 4.19), (7.08, 3.77), (9.0, 4.0), (6.7, 3.5), (7.4, 3.45), (8.1, 3.55), (6.9, 3.25), (7.6, 3.2),
    (8.3, 3.3), (6.6, 3.0), (7.2, 2.95), (7.9, 3.0), (8.4, 2.95), (6.8, 2.75), (7.5, 2.7), (8.2, 2.75),
    (6.6, 2.5), (7.3, 2.45), (8.0, 2.5), (6.9, 2.25), (7.6, 2.2), (8.3, 2.3), (7.1, 2.0), (7.8, 1.95),
    (8.4, 2.05), (7.15, 1.62), (8.45, 1.42), (7.5, 1.7),
    (8.7, 3.45), (9.3, 3.3), (9.8, 3.35), (8.9, 3.1), (9.5, 3.05), (8.6, 2.85), (9.2, 2.8), (9.9, 2.9),
    (8.8, 2.6), (9.4, 2.55), (9.7, 2.65), (8.6, 2.35), (9.1, 2.3), (9.6, 2.4), (8.9, 2.1), (9.4, 2.05),
    (9.95, 1.96), (9.3, 1.71), (9.8, 1.85),
]

psi_t1500 = [
    (2.05, 0.81), (2.0, 0.9), (2.08, 0.95), (2.15, 0.88), (2.02, 1.05), (2.1, 1.1), (2.18, 1.02), (2.0, 1.2),
    (2.06, 1.25), (2.14, 1.18), (2.02, 1.35), (2.1, 1.4), (2.18, 1.32), (2.0, 1.5), (2.07, 1.55), (2.15, 1.48),
    (2.03, 1.65), (2.12, 1.7), (2.0, 1.85), (2.08, 1.9), (2.16, 1.82), (2.02, 2.05), (2.1, 2.15), (2.05, 2.3),
    (2.15, 2.45), (2.2, 0.95),
    (2.25, 3.08), (2.5, 3.65), (2.3, 2.75), (2.45, 2.6), (2.55, 2.85), (2.25, 2.4), (2.38, 2.35), (2.5, 2.45),
    (2.3, 2.15), (2.42, 2.1), (2.55, 2.2), (2.25, 1.9), (2.35, 1.85), (2.48, 1.95), (2.58, 1.8), (2.3, 1.65),
    (2.42, 1.6), (2.55, 1.55), (2.25, 1.4), (2.38, 1.35), (2.5, 1.42), (2.3, 1.15), (2.42, 1.1), (2.55, 1.2),
    (2.35, 0.88),
    (2.75, 3.5), (2.65, 3.1), (2.9, 3.2), (2.7, 2.9), (2.85, 2.85), (3.05, 2.95), (2.62, 2.65), (2.8, 2.6),
    (3.0, 2.7), (2.7, 2.4), (2.9, 2.35), (3.08, 2.45), (2.65, 2.15), (2.85, 2.1), (3.02, 2.2), (2.75, 1.9),
    (2.95, 1.85), (2.68, 1.65), (2.88, 1.6), (3.05, 1.7), (2.78, 1.4), (2.98, 1.35), (2.7, 1.2), (2.9, 1.25),
    (3.24, 4.04), (3.9, 4.02), (4.17, 4.65), (3.4, 3.7), (3.7, 3.8), (3.2, 3.45), (3.5, 3.5), (3.8, 3.4),
    (3.3, 3.2), (3.6, 3.15), (3.95, 3.25), (3.2, 2.95), (3.5, 2.9), (3.85, 2.95), (3.35, 2.7), (3.65, 2.65),
    (3.95, 2.7), (3.2, 2.45), (3.5, 2.4), (3.8, 2.45), (3.35, 2.2), (3.65, 2.15), (3.95, 2.2), (3.25, 1.95),
    (3.55, 1.9), (3.85, 2.0), (3.4, 1.7), (3.7, 1.75), (3.6, 1.62), (3.3, 1.5),
    (4.2, 4.45), (4.43, 4.43), (4.6, 4.58), (4.8, 4.2), (4.1, 4.0), (4.5, 3.95), (4.3, 3.7), (4.7, 3.75),
    (4.95, 3.85), (4.15, 3.45), (4.55, 3.4), (4.9, 3.5), (4.3, 3.2), (4.7, 3.15), (4.1, 2.95), (4.5, 2.9),
    (4.85, 3.0), (4.3, 2.7), (4.7, 2.65), (4.15, 2.45), (4.55, 2.4), (4.9, 2.5), (4.4, 2.2), (4.8, 2.15),
    (4.5, 1.95), (4.2, 1.8),
    (5.13, 4.9), (5.5, 4.9), (5.9, 4.7), (6.3, 4.6), (5.3, 4.45), (5.7, 4.4), (6.1, 4.35), (5.1, 4.15),
    (5.5, 4.1), (5.95, 4.05), (6.4, 4.15), (5.3, 3.85), (5.75, 3.8), (6.2, 3.9), (5.1, 3.55), (5.5, 3.5),
    (5.95, 3.55), (6.35, 3.6), (5.3, 3.25), (5.7, 3.2), (6.15, 3.3), (5.1, 2.95), (5.5, 2.9), (5.9, 3.0),
    (6.3, 3.05), (5.3, 2.65), (5.75, 2.6), (6.2, 2.7), (5.1, 2.2), (5.6, 2.35), (6.0, 2.4), (5.3, 1.76),
    (5.9, 2.05),
    (6.96, 5.34), (6.5, 5.07), (7.8, 5.1), (8.3, 5.16), (7.1, 4.8), (7.6, 4.7), (8.2, 4.75), (6.7, 4.5),
    (7.3, 4.45), (7.9, 4.5), (8.4, 4.4), (6.6, 4.2), (7.1, 4.15), (7.7, 4.2), (8.2, 4.1), (6.8, 3.9),
    (7.4, 3.85), (8.0, 3.9), (6.6, 3.6), (7.2, 3.55), (7.8, 3.6), (8.4, 3.65), (6.9, 3.3), (7.5, 3.25),
    (8.1, 3.3), (6.7, 3.0), (7.3, 2.95), (8.0, 3.0), (7.0, 2.7), (7.7, 2.65), (8.3, 2.75), (6.9, 2.09),
    (6.9, 1.72), (7.5, 2.4),
    (9.9, 5.25), (9.2, 4.97), (8.7, 4.85), (9.5, 4.7), (8.9, 4.5), (9.7, 4.4), (8.6, 4.2), (9.3, 4.15),
    (9.9, 4.25), (8.8, 3.9), (9.5, 3.85), (8.6, 3.6), (9.2, 3.55), (9.8, 3.65), (8.9, 3.3), (9.6, 3.25),
    (8.7, 3.0), (9.3, 2.95), (9.9, 2.9), (9.0, 2.65), (8.6, 2.31), (9.7, 2.75),
]

psi_t2000 = [
    (2.0, 0.81), (2.05, 0.9), (2.12, 0.95), (2.02, 1.05), (2.08, 1.12), (2.16, 1.02), (2.0, 1.22), (2.06, 1.3),
    (2.14, 1.25), (2.02, 1.42), (2.1, 1.5), (2.18, 1.4), (2.0, 1.62), (2.07, 1.7), (2.15, 1.65), (2.03, 1.85),
    (2.12, 1.9), (2.0, 2.05), (2.08, 2.12), (2.16, 2.05), (2.03, 2.28), (2.12, 2.35), (2.05, 2.5), (2.15, 2.6),
    (2.3, 2.94), (2.25, 2.7), (2.4, 2.8), (2.5, 2.65), (2.22, 2.45), (2.35, 2.4), (2.48, 2.5), (2.58, 2.35),
    (2.28, 2.2), (2.4, 2.15), (2.52, 2.25), (2.25, 1.95), (2.38, 1.9), (2.5, 2.0), (2.3, 1.7), (2.42, 1.65),
    (2.55, 1.75), (2.25, 1.45), (2.38, 1.4), (2.5, 1.5), (2.3, 1.2), (2.42, 1.15), (2.45, 0.96), (2.55, 1.3),
    (3.07, 3.87), (2.75, 3.44), (2.65, 3.2), (2.9, 3.25), (2.7, 2.95), (2.85, 3.0), (3.02, 3.05), (2.62, 2.75),
    (2.8, 2.7), (2.98, 2.8), (2.7, 2.5), (2.9, 2.45), (3.08, 2.55), (2.65, 2.25), (2.85, 2.2), (3.02, 2.3),
    (2.75, 2.0), (2.95, 1.95), (2.7, 1.75), (2.9, 1.7), (3.05, 1.8), (2.8, 1.5), (2.75, 1.32), (3.0, 1.55),
    (3.46, 4.3), (3.9, 4.2), (3.3, 3.75), (3.6, 3.9), (3.2, 3.5), (3.5, 3.55), (3.8, 3.65), (3.3, 3.25),
    (3.6, 3.3), (3.9, 3.4), (3.2, 3.0), (3.5, 3.05), (3.8, 3.1), (3.35, 2.75), (3.65, 2.8), (3.95, 2.85),
    (3.2, 2.5), (3.5, 2.55), (3.8, 2.6), (3.35, 2.25), (3.65, 2.3), (3.95, 2.35), (3.25, 2.0), (3.55, 2.05),
    (3.3, 1.59), (3.7, 1.85),
    (4.25, 4.48), (4.6, 4.6), (4.1, 4.1), (4.45, 4.2), (4.85, 4.3), (4.2, 3.85), (4.6, 3.9), (4.95, 4.0),
    (4.1, 3.6), (4.45, 3.55), (4.8, 3.65), (4.3, 3.3), (4.65, 3.25), (4.95, 3.35), (4.15, 3.0), (4.5, 2.95),
    (4.85, 3.05), (4.3, 2.7), (4.7, 2.65), (4.5, 2.3), (4.2, 1.94), (4.9, 2.45),
    (5.14, 4.83), (5.6, 4.54), (5.9, 4.7), (6.3, 4.85), (5.2, 4.4), (5.5, 4.3), (6.0, 4.4), (6.4, 4.5),
    (5.1, 4.05), (5.45, 4.0), (5.85, 4.1), (6.25, 4.2), (5.3, 3.75), (5.7, 3.7), (6.1, 3.8), (5.1, 3.45),
    (5.5, 3.4), (5.95, 3.45), (6.4, 3.55), (5.3, 3.15), (5.75, 3.1), (6.2, 3.2), (5.5, 2.85), (6.0, 2.9),
    (5.3, 2.59), (6.3, 2.7),
    (6.07, 5.46), (6.67, 5.3), (7.4, 5.28), (7.94, 5.4), (6.8, 5.0), (7.5, 4.95), (8.2, 5.05), (6.6, 4.75),
    (7.2, 4.7), (7.9, 4.75), (6.9, 4.45), (7.6, 4.4), (8.3, 4.5), (6.6, 4.15), (7.3, 4.1), (8.0, 4.15),
    (6.9, 3.85), (7.6, 3.8), (8.3, 3.9), (6.7, 3.55), (7.4, 3.5), (8.1, 3.6), (7.0, 3.25), (7.8, 3.2),
    (8.4, 3.3), (7.2, 2.95), (8.0, 2.9), (7.0, 2.43), (7.7, 2.66), (8.2, 2.8), (6.6, 3.0),
    (8.6, 5.21), (9.2, 5.05), (9.7, 5.0), (8.8, 4.8), (9.5, 4.75), (8.6, 4.5), (9.2, 4.45), (9.9, 4.55),
    (8.9, 4.2), (9.6, 4.15), (8.7, 3.9), (9.3, 3.85), (9.9, 3.95), (8.9, 3.6), (9.5, 3.55), (8.6, 3.3),
    (9.2, 3.25), (9.7, 3.04), (9.4, 2.55), (9.7, 2.58), (8.8, 2.95),
]

psi_t3000 = [
    (2.0, 0.66), (2.03, 0.7), (2.07, 0.68), (2.12, 0.72), (2.0, 0.75), (2.05, 0.78), (2.1, 0.8), (2.16, 0.76),
    (2.02, 0.85), (2.07, 0.88), (2.13, 0.84), (2.18, 0.9), (2.0, 0.95), (2.05, 0.98), (2.11, 0.95), (2.02, 1.05),
    (2.08, 1.08), (2.15, 1.02), (2.0, 1.15), (2.06, 1.2), (2.03, 1.3), (2.1, 1.38), (2.0, 1.5), (2.08, 1.55),
    (2.0, 1.81), (2.14, 1.52),
    (2.22, 0.78), (2.28, 0.82), (2.35, 0.86), (2.25, 0.9), (2.32, 0.95), (2.4, 0.92), (2.48, 0.98), (2.22, 1.0),
    (2.3, 1.05), (2.38, 1.08), (2.45, 1.05), (2.55, 1.1), (2.26, 1.15), (2.35, 1.2), (2.44, 1.18), (2.52, 1.25),
    (2.3, 1.3), (2.4, 1.35), (2.5, 1.4), (2.58, 1.32), (2.25, 1.45), (2.35, 1.55), (2.5, 1.75), (2.4, 1.7),
    (2.3, 1.65),
    (2.62, 1.15), (2.7, 1.2), (2.78, 1.25), (2.85, 1.3), (2.65, 1.3), (2.75, 1.35), (2.85, 1.42), (2.95, 1.45),
    (3.05, 1.5), (2.7, 1.45), (2.8, 1.5), (2.9, 1.55), (3.0, 1.6), (2.65, 1.6), (2.78, 1.65), (2.92, 1.7),
    (3.05, 1.75), (2.7, 1.95), (2.75, 2.12), (2.85, 2.1), (2.79, 2.51), (2.95, 2.0), (3.08, 1.4),
    (3.15, 1.5), (3.25, 1.55), (3.35, 1.6), (3.45, 1.65), (3.2, 1.65), (3.3, 1.7), (3.4, 1.75), (3.55, 1.8),
    (3.65, 1.85), (3.25, 1.8), (3.38, 1.85), (3.5, 1.9), (3.62, 1.95), (3.75, 2.0), (3.85, 2.05), (3.95, 2.1),
    (3.6, 1.5), (3.75, 1.65), (3.9, 1.75), (3.3, 2.05), (3.5, 2.2), (3.19, 2.9), (3.7, 2.6), (3.9, 2.3),
    (3.35, 2.67), (3.8, 1.4),
    (4.1, 3.29), (4.05, 1.85), (4.15, 1.95), (4.25, 2.05), (4.35, 2.1), (4.45, 2.2), (4.55, 2.25), (4.65, 2.3),
    (4.75, 2.35), (4.85, 2.45), (4.95, 2.5), (4.1, 2.15), (4.2, 2.25), (4.3, 2.3), (4.5, 2.4), (4.7, 2.5),
    (4.9, 2.6), (4.2, 1.9), (4.4, 2.0), (4.6, 2.05), (4.8, 2.15), (4.3, 2.65), (4.6, 2.8), (4.9, 2.9),
    (4.5, 3.0),
    (5.2, 3.61), (5.3, 3.92), (5.1, 2.55), (5.25, 2.65), (5.4, 2.7), (5.55, 2.8), (5.7, 2.9), (5.85, 2.95),
    (6.0, 3.0), (6.2, 3.1), (6.4, 3.15), (5.1, 2.35), (5.3, 2.45), (5.5, 2.5), (5.7, 2.6), (5.9, 2.7),
    (6.1, 2.8), (6.3, 2.9), (5.2, 2.95), (5.5, 3.1), (5.8, 3.2), (6.1, 3.3), (6.4, 3.4), (5.6, 3.45),
    (6.0, 2.5),
    (6.9, 3.84), (7.3, 3.95), (8.1, 3.96), (6.6, 3.2), (6.8, 3.3), (7.0, 3.35), (7.2, 3.4), (7.4, 3.45),
    (7.6, 3.5), (7.8, 3.55), (8.0, 3.6), (8.2, 3.65), (8.4, 3.7), (6.6, 2.95), (6.9, 3.05), (7.2, 3.1),
    (7.5, 3.2), (7.8, 3.25), (8.1, 3.35), (8.4, 3.45), (6.7, 3.5), (7.1, 3.6), (7.5, 3.7), (7.9, 3.8),
    (8.3, 3.85), (7.0, 2.85), (7.7, 3.0),
    (9.4, 4.44), (9.6, 4.3), (8.6, 3.75), (8.8, 3.85), (9.0, 3.9), (9.2, 3.95), (9.4, 4.0), (9.6, 4.05),
    (9.8, 4.1), (10.0, 4.15), (8.6, 3.5), (8.9, 3.6), (9.2, 3.65), (9.5, 3.75), (9.8, 3.8), (8.7, 4.05),
    (9.1, 4.15), (9.5, 4.2), (9.9, 4.3), (8.2, 3.02), (9.1, 3.06), (9.5, 2.06), (10.0, 3.5), (9.9, 3.7),
]

# denser core of each Psi cloud
psi_t100_core = [
    (2.01, 1.42), (2.04, 1.68), (2.06, 2.15), (2.09, 1.28), (2.11, 1.88), (2.13, 2.42), (2.16, 1.55), (2.19, 2.05),
    (2.21, 1.22), (2.23, 1.75), (2.27, 2.32), (2.29, 1.38), (2.31, 1.95), (2.34, 2.55), (2.37, 1.52), (2.39, 2.12),
    (2.41, 1.1), (2.44, 1.88), (2.47, 2.4), (2.5, 1.62), (2.53, 2.2), (2.56, 1.35), (2.59, 2.0), (2.63, 2.62),
    (2.67, 1.82), (2.7, 2.18), (2.74, 1.42), (2.78, 2.45), (2.82, 1.95), (2.87, 2.62), (2.9, 1.72), (2.95, 2.32),
    (3.0, 2.05), (3.06, 2.72), (3.1, 1.8), (3.17, 2.38), (3.22, 2.62), (3.28, 1.95), (3.35, 2.5), (3.42, 2.08),
    (3.5, 2.88), (3.57, 2.4), (3.63, 2.6), (3.7, 2.15), (3.78, 2.78), (3.85, 2.35), (3.93, 2.55), (4.02, 2.18),
    (4.12, 2.85), (4.22, 2.45), (4.32, 2.62), (4.45, 2.35), (4.55, 2.82), (4.7, 2.55), (4.82, 2.25), (5.0, 2.65),
    (5.15, 2.35), (5.35, 2.9), (5.55, 2.4), (5.75, 2.6), (6.0, 2.45), (6.25, 2.7), (6.5, 2.25), (6.75, 2.65),
    (7.0, 2.35), (7.3, 2.7), (7.6, 2.6), (7.9, 2.35), (8.2, 2.9), (8.5, 2.65), (8.9, 2.4), (9.2, 2.6),
    (9.5, 2.2), (9.8, 2.4),
]
psi_t500_core = [
    (2.01, 1.1), (2.03, 1.42), (2.05, 1.62), (2.08, 1.3), (2.1, 1.82), (2.12, 1.12), (2.14, 1.5), (2.17, 2.02),
    (2.19, 1.35), (2.21, 1.7), (2.24, 1.15), (2.27, 1.85), (2.29, 1.4), (2.32, 2.05), (2.34, 1.6), (2.37, 1.22),
    (2.4, 1.9), (2.43, 1.5), (2.46, 2.15), (2.5, 1.78), (2.53, 1.3), (2.56, 2.0), (2.6, 1.6), (2.63, 2.3),
    (2.67, 1.85), (2.72, 2.45), (2.76, 2.1), (2.8, 1.75), (2.86, 2.35), (2.92, 2.05), (2.98, 2.55), (3.05, 2.2),
    (3.12, 2.7), (3.2, 2.3), (3.27, 2.85), (3.33, 2.15), (3.42, 2.6), (3.5, 2.35), (3.58, 2.85), (3.66, 2.5),
    (3.74, 3.0), (3.82, 2.3), (3.92, 2.75), (4.05, 2.55), (4.15, 3.15), (4.28, 2.35), (4.4, 2.85), (4.55, 2.6),
    (4.7, 3.05), (4.85, 2.35), (5.0, 2.9), (5.2, 2.55), (5.4, 2.8), (5.6, 2.3), (5.8, 2.75), (6.0, 2.95),
    (6.25, 2.55), (6.5, 2.85), (6.75, 2.3), (7.0, 2.7), (7.3, 3.1), (7.6, 2.55), (7.9, 2.85), (8.2, 2.45),
    (8.5, 3.1), (8.8, 2.7), (9.1, 2.9), (9.4, 2.25), (9.7, 3.0), (9.9, 2.55),
]
psi_t1500_core = [
    (2.01, 1.0), (2.03, 1.28), (2.05, 1.6), (2.07, 1.12), (2.1, 1.45), (2.12, 1.85), (2.14, 1.05), (2.17, 1.62),
    (2.2, 1.3), (2.22, 1.98), (2.25, 1.55), (2.27, 1.18), (2.3, 1.8), (2.33, 1.45), (2.36, 2.05), (2.39, 1.62),
    (2.42, 1.3), (2.45, 1.85), (2.48, 2.2), (2.52, 1.5), (2.55, 1.98), (2.6, 1.72), (2.64, 2.3), (2.68, 1.95),
    (2.72, 2.55), (2.77, 2.2), (2.82, 1.8), (2.87, 2.45), (2.93, 2.1), (2.99, 2.6), (3.06, 2.3), (3.13, 2.8),
    (3.2, 2.2), (3.28, 2.6), (3.36, 2.95), (3.45, 2.45), (3.54, 3.05), (3.63, 2.7), (3.72, 3.25), (3.82, 2.6),
    (3.92, 3.0), (4.05, 3.3), (4.2, 2.8), (4.35, 3.45), (4.5, 3.1), (4.65, 3.55), (4.8, 2.85), (4.95, 3.3),
    (5.15, 3.6), (5.35, 3.0), (5.55, 3.7), (5.75, 3.35), (5.95, 3.85), (6.15, 3.15), (6.4, 3.75), (6.6, 3.4),
    (6.85, 4.0), (7.1, 3.7), (7.35, 4.3), (7.6, 3.4), (7.9, 4.0), (8.15, 3.75), (8.45, 4.25), (8.7, 3.45),
    (9.0, 4.1), (9.25, 3.8), (9.55, 4.45), (9.8, 4.0),
]
psi_t2000_core = [
    (2.01, 1.0), (2.03, 1.32), (2.05, 1.72), (2.07, 1.15), (2.1, 1.6), (2.12, 2.0), (2.14, 1.35), (2.17, 1.8),
    (2.2, 2.2), (2.22, 1.55), (2.25, 2.05), (2.27, 1.25), (2.3, 1.9), (2.33, 2.35), (2.36, 1.6), (2.39, 2.1),
    (2.42, 2.55), (2.45, 1.8), (2.48, 2.3), (2.52, 1.55), (2.55, 2.1), (2.6, 2.55), (2.64, 1.9), (2.68, 2.35),
    (2.72, 2.8), (2.77, 2.1), (2.82, 2.6), (2.87, 1.85), (2.93, 2.4), (2.99, 2.95), (3.06, 2.2), (3.13, 2.75),
    (3.2, 3.25), (3.28, 2.4), (3.36, 2.95), (3.45, 3.4), (3.54, 2.7), (3.63, 3.15), (3.72, 3.6), (3.82, 2.95),
    (3.92, 3.5), (4.05, 3.05), (4.2, 3.7), (4.35, 3.35), (4.5, 4.0), (4.65, 3.45), (4.8, 3.85), (4.95, 3.2),
    (5.15, 3.9), (5.35, 3.55), (5.55, 4.2), (5.75, 3.35), (5.95, 4.0), (6.15, 3.6), (6.4, 4.3), (6.6, 3.9),
    (6.85, 4.6), (7.1, 3.65), (7.35, 4.25), (7.6, 4.6), (7.9, 3.45), (8.15, 4.35), (8.45, 3.75), (8.7, 4.65),
    (9.0, 4.0), (9.25, 4.7), (9.55, 3.7), (9.8, 4.4),
]
psi_t3000_core = [
    (2.01, 0.7), (2.02, 0.8), (2.04, 0.92), (2.06, 0.73), (2.08, 0.85), (2.09, 0.98), (2.11, 0.76), (2.13, 0.9),
    (2.15, 0.8), (2.17, 0.95), (2.19, 0.85), (2.21, 0.92), (2.23, 1.08), (2.25, 0.85), (2.27, 1.0), (2.29, 1.12),
    (2.31, 0.9), (2.33, 1.02), (2.36, 1.15), (2.38, 0.98), (2.41, 1.12), (2.43, 1.25), (2.46, 1.1), (2.49, 1.2),
    (2.52, 1.05), (2.55, 1.22), (2.58, 1.15), (2.61, 1.28), (2.64, 1.22), (2.67, 1.38), (2.7, 1.3), (2.73, 1.42),
    (2.77, 1.35), (2.81, 1.48), (2.85, 1.4), (2.89, 1.52), (2.93, 1.48), (2.98, 1.58), (3.03, 1.55), (3.1, 1.65),
    (3.17, 1.6), (3.24, 1.72), (3.32, 1.65), (3.4, 1.82), (3.48, 1.75), (3.57, 1.92), (3.66, 1.78), (3.75, 1.95),
    (3.85, 1.9), (3.96, 2.02), (4.08, 2.05), (4.2, 2.15), (4.33, 2.2), (4.47, 2.32), (4.62, 2.38), (4.78, 2.45),
    (4.95, 2.55), (5.12, 2.62), (5.3, 2.7), (5.5, 2.78), (5.7, 2.85), (5.9, 2.92), (6.12, 3.02), (6.35, 3.08),
    (6.6, 3.18), (6.85, 3.25), (7.12, 3.3), (7.4, 3.38), (7.7, 3.48), (8.0, 3.55), (8.3, 3.6), (8.6, 3.7),
    (8.9, 3.78), (9.2, 3.85), (9.5, 3.9), (9.8, 4.0), (2.6, 1.55), (2.9, 1.85), (3.2, 2.1), (3.6, 2.4),
    (4.0, 2.6), (4.4, 2.75), (5.0, 3.1), (5.6, 3.25), (6.2, 3.55), (6.8, 3.7), (7.5, 3.9), (8.3, 4.05),
    (9.0, 4.2), (9.7, 4.35),
]

lam_panels = [lam_t100 + lam_t100_core, lam_t500 + lam_t500_core, lam_t1500 + lam_t1500_core,
              lam_t2000 + lam_t2000_core, lam_t3000 + lam_t3000_core]
psi_panels = [psi_t100 + psi_t100_core, psi_t500 + psi_t500_core, psi_t1500 + psi_t1500_core,
              psi_t2000 + psi_t2000_core, psi_t3000 + psi_t3000_core]

# ---- figure ----
fig = plt.figure(figsize=(3850 / 300, 2298 / 300), dpi=300)

pt_color = "#8c8c8c"
frame_color = "#707070"
tick_text = "#4d4d4d"


def draw_row(panels, fits, r2s, lefts, bottom, width, height, ylim, yticks, ylabel, ylab_x, ylab_size):
    axes = []
    for i, pts in enumerate(panels):
        ax = fig.add_axes([lefts[i], bottom, width, height])
        xs = [p[0] for p in pts]
        ys = [p[1] for p in pts]
        ax.scatter(xs, ys, s=16, color=pt_color, alpha=0.3, edgecolors=pt_color,
                   linewidths=0.6, zorder=2)
        ax.plot(fit_x, fits[i], color="black", lw=1.8, solid_capstyle="butt", zorder=3)
        ax.set_xscale("log")
        ax.set_xlim(1.845, 10.84)
        ax.set_ylim(*ylim)
        ax.xaxis.set_major_locator(FixedLocator(x_ticks))
        ax.xaxis.set_major_formatter(FixedFormatter([str(t) for t in x_ticks]))
        ax.xaxis.set_minor_locator(NullLocator())
        ax.yaxis.set_minor_locator(NullLocator())
        ax.tick_params(axis="both", direction="out", length=3, width=0.7, color="#333333",
                       labelsize=9, labelcolor=tick_text, pad=2)
        if i == 0:
            ax.set_yticks(yticks)
            ax.set_yticklabels([str(t) for t in yticks])
            ax.set_ylabel(ylabel, fontsize=ylab_size, family="STIXGeneral", va="center")
            ax.yaxis.set_label_coords(ylab_x, 0.5)
        else:
            ax.tick_params(axis="y", left=False, labelleft=False)
        for sp in ax.spines.values():
            sp.set_color(frame_color)
            sp.set_linewidth(0.8)
        ax.set_title(r"$\mathregular{t_{%s}}$" % times[i], fontsize=11, pad=8)
        ax.text(0.948, 0.952, "R\u00b2 =  " + r2s[i], transform=ax.transAxes,
                ha="right", va="center", fontsize=9, color="black")
        axes.append(ax)
    axes[2].set_xlabel("Amplitude of expansion (A)", fontsize=10, labelpad=3)
    return axes


draw_row(lam_panels, fit_lambda, r2_lambda,
         [0.0291, 0.2244, 0.4187, 0.6135, 0.8081], 0.5583, 0.1875, 0.4108,
         (12.094, 15.757), [13, 14, 15], "\u03bb*", -0.113, 12)
draw_row(psi_panels, fit_psi, r2_psi,
         [0.0242, 0.2199, 0.4157, 0.6115, 0.8072], 0.0459, 0.1896, 0.4106,
         (0.433, 5.88), [1, 2, 3, 4, 5], "\u03a8", -0.086, 12)

fig.text(0.0101, 0.9817, "A", fontsize=18, fontweight="bold", ha="center", va="center")
fig.text(0.0101, 0.4743, "B", fontsize=18, fontweight="bold", ha="center", va="center")

fig.savefig("out.png", dpi=300)
